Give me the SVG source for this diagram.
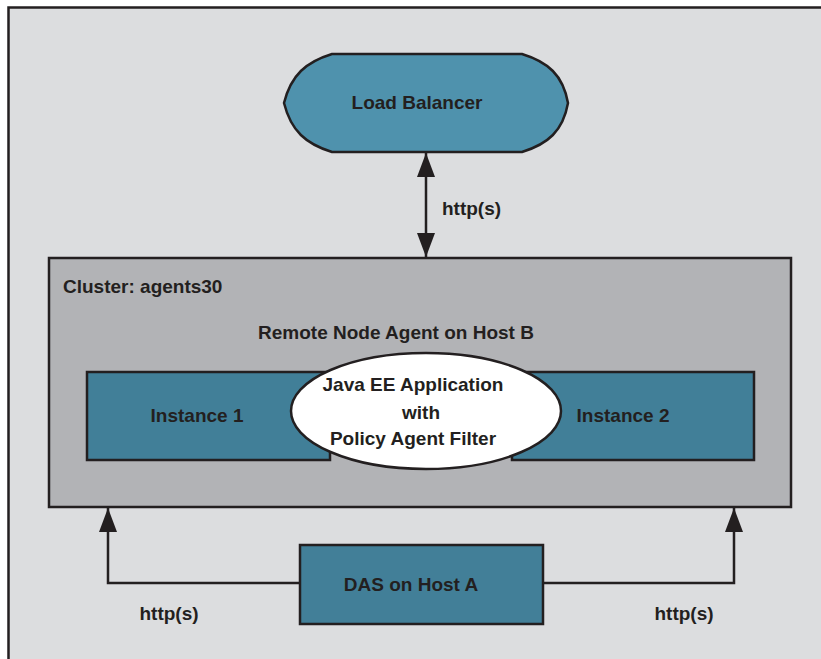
<svg xmlns="http://www.w3.org/2000/svg" width="821" height="659" viewBox="0 0 821 659">
<defs>
<style>
.s{stroke:#231f20;stroke-width:2.5}
.t{font-family:"Liberation Sans",Arial,sans-serif;font-weight:bold;font-size:19px;fill:#231f20}
.c{text-anchor:middle}
.ln{fill:none;stroke:#231f20;stroke-width:2.5}
</style>
<marker id="ah" markerWidth="24" markerHeight="18" refX="24" refY="9" viewBox="0 0 24 18" orient="auto-start-reverse" markerUnits="userSpaceOnUse">
<path d="M0,0 L24,9 L0,18 Z" fill="#231f20"/>
</marker>
</defs>
<rect x="0" y="0" width="821" height="659" fill="#ffffff"/>
<rect x="8.5" y="7.5" width="840" height="680" fill="#dcdddf" class="s"/>
<g id="cluster">
<rect x="49" y="258" width="742" height="249" fill="#b2b3b6" class="s"/>
<text class="t" x="63" y="293">Cluster: agents30</text>
<text class="t c" x="396" y="339">Remote Node Agent on Host B</text>
</g>
<g id="instance1">
<rect x="87" y="372" width="243" height="88" fill="#417f98" class="s"/>
<text class="t c" x="197" y="422">Instance 1</text>
</g>
<g id="instance2">
<rect x="512" y="372" width="242" height="88" fill="#417f98" class="s"/>
<text class="t c" x="623" y="422">Instance 2</text>
</g>
<g id="javaee">
<ellipse cx="426" cy="411" rx="135" ry="58" fill="#ffffff" class="s"/>
<text class="t c" x="413" y="391">Java EE Application</text>
<text class="t c" x="421" y="419">with</text>
<text class="t c" x="413" y="445">Policy Agent Filter</text>
</g>
<g id="loadbalancer">
<path d="M332,54 H522 C548,62 563,75 568,103 C563,131 548,144 522,152 H332 C306,144 291,131 284,103 C291,75 306,62 332,54 Z" fill="#4f92ad" class="s"/>
<text class="t c" x="417" y="109">Load Balancer</text>
</g>
<g id="das">
<rect x="300" y="545" width="243" height="79" fill="#427f98" class="s"/>
<text class="t c" x="411" y="591">DAS on Host A</text>
</g>
<g id="connectors">
<line x1="426" y1="153" x2="426" y2="257" class="ln" marker-start="url(#ah)" marker-end="url(#ah)"/>
<polyline points="300,583 108,583 108,508" class="ln" marker-end="url(#ah)"/>
<polyline points="543,583 734,583 734,508" class="ln" marker-end="url(#ah)"/>
<text class="t" x="442" y="215">http(s)</text>
<text class="t c" x="169" y="620">http(s)</text>
<text class="t c" x="684" y="620">http(s)</text>
</g>
</svg>
